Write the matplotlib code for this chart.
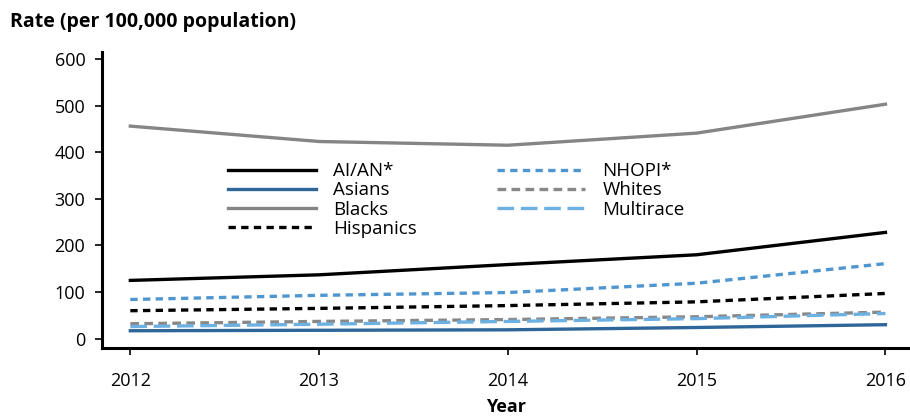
import matplotlib.pyplot as plt
from matplotlib import font_manager

names = {f.name for f in font_manager.fontManager.ttflist}
family = [n for n in ["Liberation Sans Narrow", "Open Sans", "DejaVu Sans"] if n in names]
plt.rcParams["font.family"] = family

years = [2012, 2013, 2014, 2015, 2016]
aian = [125, 137, 159, 180, 228]
asians = [17, 18, 19, 24, 30]
blacks = [456, 423, 415, 441, 503]
hispanics = [60, 65, 71, 79, 97]
nhopi = [84, 93, 99, 119, 161]
whites = [32, 37, 41, 47, 57]
multirace = [26, 31, 37, 43, 54]

fig = plt.figure(figsize=(9.10, 4.17), dpi=100)
ax = fig.add_axes([102 / 910, 1 - 348 / 417, 808 / 910, (348 - 52) / 417])

lw = 2.4
l1, = ax.plot(years, aian, color="black", lw=lw, label="AI/AN*")
l2, = ax.plot(years, asians, color="#2f6699", lw=lw, label="Asians")
l3, = ax.plot(years, blacks, color="#858585", lw=lw, label="Blacks")
l4, = ax.plot(years, hispanics, color="black", lw=lw, ls=(0, (2.2, 1.6)), label="Hispanics")
l5, = ax.plot(years, nhopi, color="#4f96d0", lw=lw, ls=(0, (2.2, 1.6)), label="NHOPI*")
l6, = ax.plot(years, whites, color="#888888", lw=lw, ls=(0, (2.6, 1.6)), label="Whites")
l7, = ax.plot(years, multirace, color="#6db1e2", lw=lw, ls=(0, (5, 2)), label="Multirace")

ax.set_xlim(2011.85, 2016.13)
ax.set_ylim(-20, 615)
ax.set_xticks(years)
ax.set_yticks(range(0, 601, 100))
ax.tick_params(labelsize=13, length=5, width=1.2)
ax.tick_params(axis="x", pad=12)
ax.tick_params(axis="y", pad=7)
ax.spines["top"].set_visible(False)
ax.spines["right"].set_visible(False)
ax.spines["left"].set_linewidth(2.2)
ax.spines["bottom"].set_linewidth(2.2)

ax.set_xlabel("Year", fontsize=13, fontweight="bold", labelpad=6)
fig.text(10 / 910, 1 - 22 / 417, "Rate (per 100,000 population)", fontsize=14,
         fontweight="bold", va="center", ha="left")

leg = ax.legend(handles=[l1, l2, l3, l4, l5, l6, l7], ncol=2, frameon=False,
                fontsize=13.5, handlelength=4.7, labelspacing=0.07, columnspacing=4.3,
                handletextpad=0.9, loc="upper left",
                bbox_to_anchor=(0.135, 0.685))

fig.savefig("out.png", dpi=100)
